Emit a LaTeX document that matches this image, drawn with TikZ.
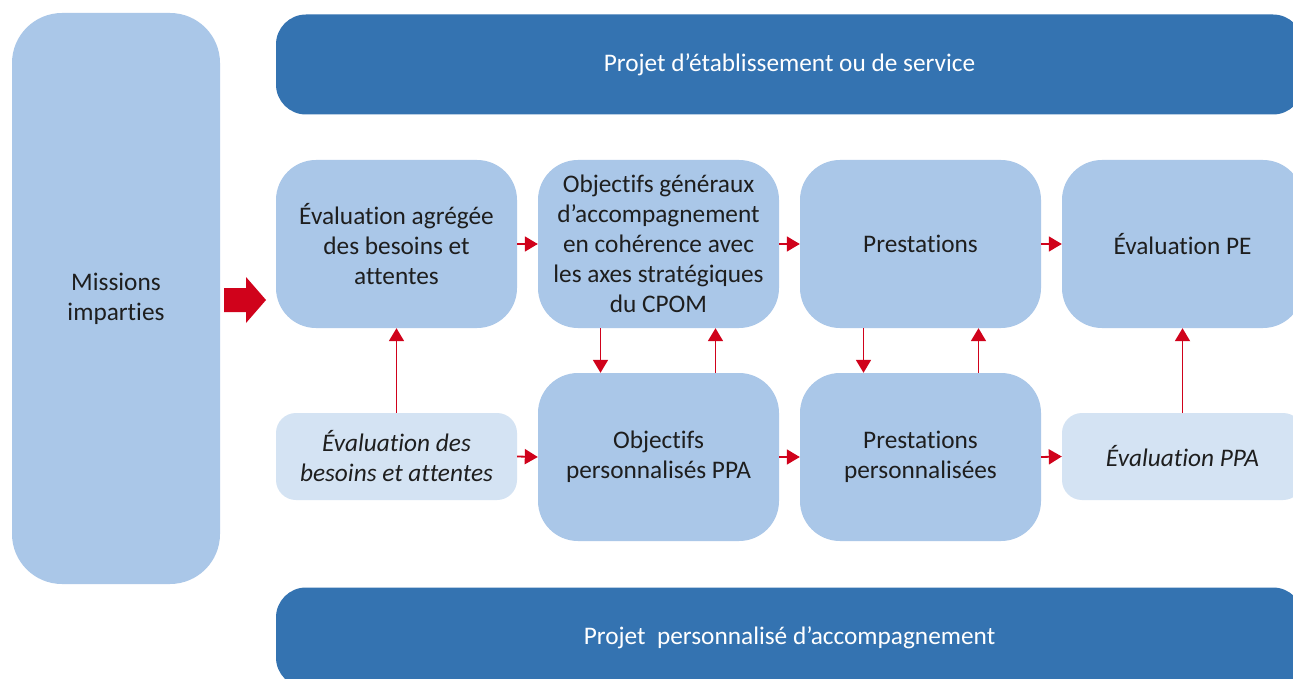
\documentclass[tikz,border=0pt]{standalone}
\usepackage{fontspec}
\setmainfont{Carlito}[RawFeature={-liga;-clig;-calt;-dlig;-rlig}]
\usetikzlibrary{arrows.meta}
\definecolor{lblue}{HTML}{AAC7E8}
\definecolor{vlblue}{HTML}{D4E3F3}
\definecolor{dblue}{HTML}{3473B1}
\definecolor{ared}{HTML}{D0021B}
\definecolor{txt}{HTML}{1E1E1E}
\tikzset{
  x=1pt,y=-1pt,
  base/.style={inner sep=0pt, align=center, text=txt, font=\fontsize{25.3}{30}\selectfont},
  boxA/.style={base, fill=lblue, rounded corners=40pt, minimum width=241pt, minimum height=168pt},
  boxL/.style={base, fill=vlblue, rounded corners=20pt, minimum width=241pt, minimum height=87pt, font=\fontsize{25.3}{30}\selectfont\itshape},
  bar/.style={base, fill=dblue, text=white, rounded corners=30pt, minimum width=1027pt, minimum height=100pt},
  side/.style={base, fill=lblue, rounded corners=50pt, minimum width=208pt, minimum height=571pt},
  conn/.style={draw=ared, line width=1.8pt, -{Triangle[width=15pt,length=13pt]}},
}
\begin{document}
\begin{tikzpicture}
\useasboundingbox (0,0) rectangle (1293,679);
\clip (0,0) rectangle (1293,679);
\fill[white] (0,0) rectangle (1293,679);
\node[side] (mis) at (116,298.5) {Missions\\imparties};
\node[bar] (top) at (789.5,64.5) {Projet d’établissement ou de service};
\node[bar] (bot) at (789.5,637.5) {Projet\ \ personnalisé d’accompagnement};
\node[boxA] (a1) at (396.5,244) {Évaluation agrégée\\des besoins et\\attentes};
\node[boxA] (a2) at (658.5,244) {Objectifs généraux\\d’accompagnement\\en cohérence avec\\les axes stratégiques\\du CPOM};
\node[boxA] (a3) at (920.5,244) {Prestations};
\node[boxA] (a4) at (1182.5,244) {Évaluation PE};
\node[boxL] (b1) at (396.5,456.5) {Évaluation des\\besoins et attentes};
\node[boxA] (b2) at (658.5,457) {Objectifs\\personnalisés PPA};
\node[boxA] (b3) at (920.5,457) {Prestations\\personnalisées};
\node[boxL] (b4) at (1182.5,456.5) {Évaluation PPA};
% big arrow
\fill[ared] (224,288) -- (246,288) -- (246,277) -- (266,300) -- (246,323) -- (246,312) -- (224,312) -- cycle;
% horizontal arrows
\draw[conn] (a1.east) -- (a2.west);
\draw[conn] (a2.east) -- (a3.west);
\draw[conn] (a3.east) -- (a4.west);
\draw[conn] (b1.east) -- (b2.west);
\draw[conn] (b2.east) -- (b3.west);
\draw[conn] (b3.east) -- (b4.west);
% vertical arrows
\draw[conn] ([xshift=-58pt]a2.south) -- ([xshift=-58pt]b2.north);
\draw[conn] ([xshift=57pt]b2.north) -- ([xshift=57pt]a2.south);
\draw[conn] ([xshift=-57pt]a3.south) -- ([xshift=-57pt]b3.north);
\draw[conn] ([xshift=58pt]b3.north) -- ([xshift=58pt]a3.south);
\draw[conn] (b1.north) -- (a1.south);
\draw[conn] (b4.north) -- (a4.south);
\end{tikzpicture}
\end{document}
